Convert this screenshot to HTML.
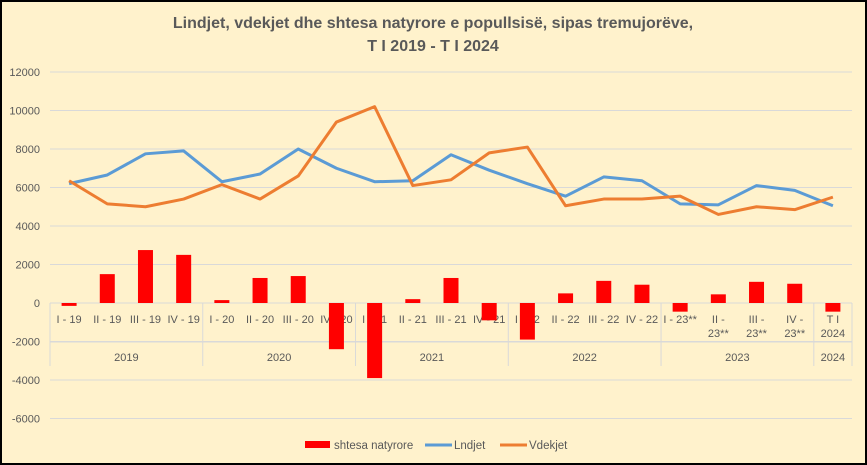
<!DOCTYPE html>
<html><head><meta charset="utf-8"><style>
html,body{margin:0;padding:0;background:#FFF2CC;}
#c{width:867px;height:465px;position:relative;box-sizing:border-box;border:2px solid #000;background:#FFF2CC;overflow:hidden}
svg{position:absolute;left:-2px;top:-2px}
text{font-family:"Liberation Sans",sans-serif;fill:#595959}
</style></head><body><div id="c">
<svg id="s" width="867" height="465" xmlns="http://www.w3.org/2000/svg">
<text x="433" y="28" text-anchor="middle" font-size="16" font-weight="bold" style="fill:#595959">Lindjet, vdekjet dhe shtesa natyrore e popullsisë, sipas tremujorëve,</text>
<text x="433" y="51" text-anchor="middle" font-size="16" font-weight="bold" style="fill:#595959">T I 2019 - T I 2024</text>
<g id="g"></g>
<rect x="305" y="441" width="25" height="7" fill="#FF0000"/>
<text x="334" y="449" font-size="11.5">shtesa natyrore</text>
<line x1="425" y1="445" x2="452" y2="445" stroke="#5B9BD5" stroke-width="3"/>
<text x="454" y="449" font-size="11.5">Lndjet</text>
<line x1="500" y1="445" x2="527" y2="445" stroke="#ED7D31" stroke-width="3"/>
<text x="529" y="449" font-size="11.5">Vdekjet</text>
</svg></div>
<script>
var g=document.getElementById('g'),h='';
var R=852;
function Y(v){return 303-v*0.01925;}
for(var v=-6000;v<=12000;v+=2000){var y=Y(v);
 if(v!==0)h+='<line x1="50" x2="'+R+'" y1="'+y+'" y2="'+y+'" stroke="#D9D9D9" stroke-width="1"/>';
 h+='<text x="40" y="'+(y+4)+'" text-anchor="end" font-size="11">'+v+'</text>';}
var L=[6200,6650,7750,7900,6300,6700,8000,7000,6300,6350,7700,6900,6200,5550,6550,6350,5150,5100,6100,5850,5050];
var D=[6350,5150,5000,5400,6150,5400,6600,9400,10200,6100,6400,7800,8100,5050,5400,5400,5550,4600,5000,4850,5500];
var B=[-150,1500,2750,2500,150,1300,1400,-2400,-3900,200,1300,-900,-1900,500,1150,950,-450,450,1100,1000,-450];
var lab=[["I - 19"],["II - 19"],["III - 19"],["IV - 19"],["I - 20"],["II - 20"],["III - 20"],["IV - 20"],["I - 21"],["II - 21"],["III - 21"],["IV - 21"],["I - 22"],["II - 22"],["III - 22"],["IV - 22"],["I - 23**"],["II -","23**"],["III -","23**"],["IV -","23**"],["T I","2024"]];
var w=(R-50)/21;function X(i){return 50+w*(i+0.5);}
h+='<line x1="50" x2="'+R+'" y1="303" y2="303" stroke="#D9D9D9"/>';
h+='<line x1="50" x2="'+R+'" y1="342" y2="342" stroke="#D9D9D9"/>';
var bounds=[0,4,8,12,16,20,21];
bounds.forEach(function(b){var x=50+w*b;h+='<line x1="'+x+'" x2="'+x+'" y1="303" y2="366" stroke="#D9D9D9"/>';});
var yrs=["2019","2020","2021","2022","2023","2024"];
for(var k=0;k<6;k++){var xm=50+w*(bounds[k]+bounds[k+1])/2;h+='<text x="'+xm+'" y="361" text-anchor="middle" font-size="11">'+yrs[k]+'</text>';}
lab.forEach(function(l,i){if(l.length==1)h+='<text x="'+X(i)+'" y="323" text-anchor="middle" font-size="11">'+l[0]+'</text>';
 else{h+='<text x="'+X(i)+'" y="323" text-anchor="middle" font-size="11">'+l[0]+'</text><text x="'+X(i)+'" y="337" text-anchor="middle" font-size="11">'+l[1]+'</text>';}});
B.forEach(function(v,i){var y0=Y(0),y1=Y(v);h+='<rect x="'+(X(i)-7.5)+'" y="'+Math.min(y0,y1)+'" width="15" height="'+Math.abs(y1-y0)+'" fill="#FF0000"/>';});
function pl(a,c){return '<polyline fill="none" stroke="'+c+'" stroke-width="3" stroke-linejoin="round" points="'+a.map(function(v,i){return X(i)+','+Y(v);}).join(' ')+'"/>';}
h+=pl(L,'#5B9BD5')+pl(D,'#ED7D31');
g.innerHTML=h;
</script></body></html>
